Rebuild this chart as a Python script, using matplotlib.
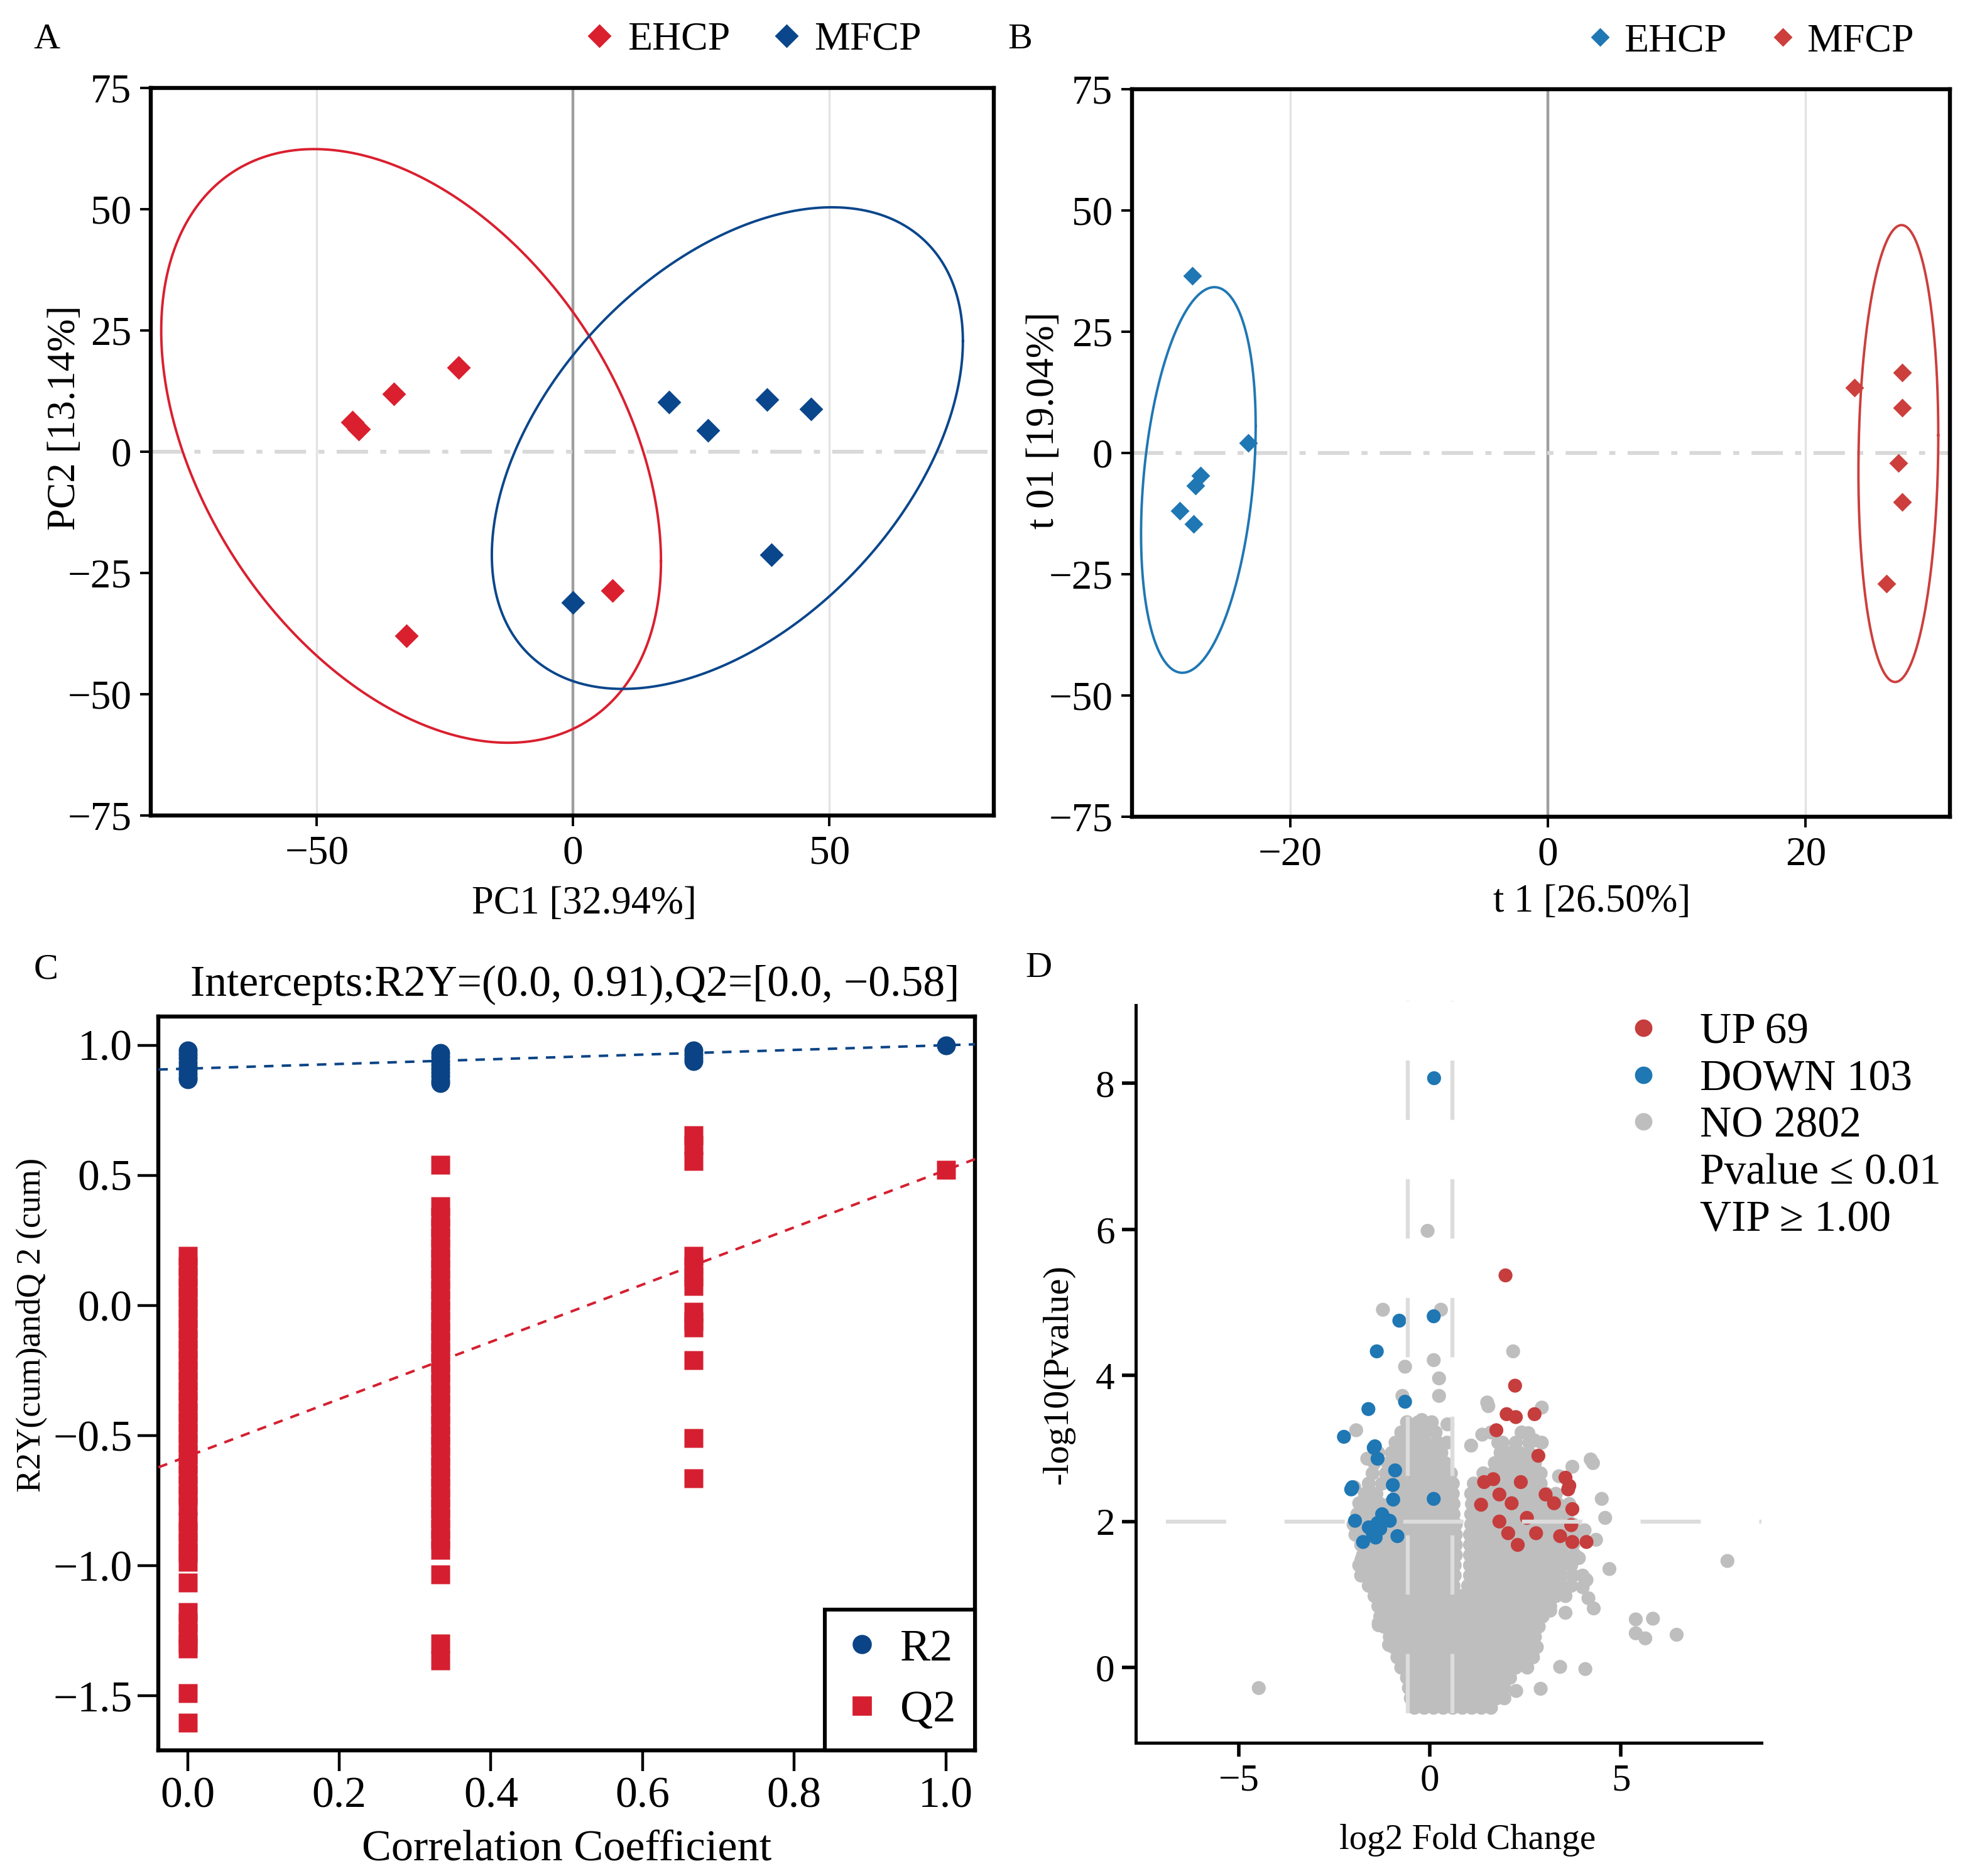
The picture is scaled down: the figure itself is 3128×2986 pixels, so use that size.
import numpy as np
import matplotlib
matplotlib.use('Agg')
import matplotlib.pyplot as plt
from matplotlib.lines import Line2D
from matplotlib.ticker import FuncFormatter

plt.rcParams['font.family'] = ['Liberation Serif', 'DejaVu Serif']
plt.rcParams['lines.scale_dashes'] = False
plt.rcParams['axes.unicode_minus'] = True

# ---- A: PCA scores ----
pca_ehcp_x = [-43.0, -41.8, -35.0, -22.3, -32.5, 7.7]
pca_ehcp_y = [6.1, 4.7, 11.9, 17.4, -37.9, -28.6]
pca_mfcp_x = [18.7, 26.3, 37.8, 46.4, 38.7, 0.0]
pca_mfcp_y = [10.2, 4.4, 10.7, 8.8, -21.3, -31.1]
# confidence ellipses: centre x, centre y, half extent x, half extent y, correlation
pca_ehcp_ell = [-31.6, 1.2, 48.75, 61.2, -0.388]
pca_mfcp_ell = [30.1, 0.75, 45.95, 49.65, 0.444]

# ---- B: OPLS-DA scores ----
opls_ehcp_x = [-27.6, -23.3, -27.0, -27.4, -28.6, -27.5]
opls_ehcp_y = [36.5, 2.1, -4.6, -6.7, -11.9, -14.6]
opls_mfcp_x = [23.8, 27.5, 27.5, 27.2, 27.5, 26.3]
opls_mfcp_y = [13.5, 16.6, 9.4, -2.0, -10.1, -26.9]
opls_ehcp_ell = [-27.15, -5.55, 4.45, 39.75, 0.28]
opls_mfcp_ell = [27.2, -0.1, 3.1, 47.1, 0.08]

# ---- C: permutation test ----
perm_levels = [0.0, 0.333, 0.667, 1.0]
r2_values = [
    [0.98, 0.965, 0.95, 0.935, 0.92, 0.905, 0.89, 0.875, 0.87],
    [0.97, 0.955, 0.94, 0.925, 0.91, 0.895, 0.88, 0.865, 0.855],
    [0.98, 0.965, 0.95, 0.94],
    [1.0],
]
q2_values = [
    [0.19, 0.15, 0.11, 0.07, 0.03, -0.01, -0.05, -0.09, -0.13, -0.17, -0.21,
     -0.25, -0.29, -0.33, -0.37, -0.41, -0.45, -0.49, -0.53, -0.57, -0.61,
     -0.65, -0.69, -0.73, -0.77, -0.83, -0.87, -0.91, -0.95, -0.985,
     -1.065, -1.18, -1.22, -1.26, -1.3, -1.32, -1.49, -1.605],
    [0.54, 0.38, 0.34, 0.3, 0.26, 0.22, 0.18, 0.14, 0.1, 0.06, 0.02, -0.02,
     -0.06, -0.1, -0.14, -0.18, -0.22, -0.26, -0.3, -0.34, -0.38, -0.42,
     -0.46, -0.5, -0.54, -0.58, -0.62, -0.66, -0.7, -0.74, -0.78, -0.82,
     -0.86, -0.9, -0.94, -1.035, -1.3, -1.365],
    [0.655, 0.615, 0.555, 0.19, 0.15, 0.11, 0.075, -0.025, -0.06, -0.085,
     -0.21, -0.51, -0.665],
    [0.52],
]
r2_intercept = 0.91
q2_intercept = -0.58

# ---- D: volcano ----
up_x = [1.98, 2.23, 2.01, 2.25, 2.74, 1.74, 2.84, 3.62, 3.65, 3.73, 3.73, 4.10,
        1.34, 1.42, 1.66, 1.82, 2.14, 2.38, 2.54, 2.78, 1.82, 2.05, 3.03, 3.25,
        3.41, 2.30, 3.55, 3.70]
up_y = [5.37, 3.86, 3.47, 3.43, 3.47, 3.25, 2.90, 2.44, 2.49, 2.17, 1.72, 1.72,
        2.23, 2.54, 2.58, 2.37, 2.25, 2.54, 2.05, 1.84, 2.00, 1.84, 2.37, 2.25,
        1.80, 1.68, 2.60, 1.95]
down_x = [0.11, -0.80, 0.10, -1.39, -1.61, -2.25, -0.65, -1.44, -1.37, -0.91,
          -0.97, -2.06, -1.96, -1.37, -1.50, -1.42, -1.60, -1.05, -1.20, -2.03,
          -1.47, -0.96, -1.30, -1.25, 0.10, -1.75, -0.85]
down_y = [8.07, 4.75, 4.81, 4.33, 3.54, 3.16, 3.64, 3.03, 2.86, 2.70,
          2.50, 2.44, 2.01, 1.98, 1.85, 1.78, 1.92, 2.01, 2.05, 2.47,
          3.01, 2.30, 1.90, 2.10, 2.31, 1.72, 1.80]
no_rows_y = [-0.55, -0.42, -0.28, -0.14, 0.0, 0.14, 0.28, 0.42, 0.56, 0.7,
             0.84, 0.98, 1.12, 1.26, 1.4, 1.54, 1.68, 1.82, 1.96, 2.1, 2.24,
             2.38, 2.52, 2.66, 2.8, 2.94, 3.08, 3.22, 3.36]
no_rows_x = [
    [-0.4, -0.15, 0.1, 0.35, 0.6, 0.85, 1.1, 1.35, 1.6],
    [-0.5, -0.25, 0.0, 0.25, 0.5, 0.75, 1.0, 1.25, 1.5, 1.75, 1.95],
    [-0.55, -0.3, -0.05, 0.2, 0.45, 0.7, 0.95, 1.2, 1.45, 1.7, 1.95],
    [-0.6, -0.35, -0.1, 0.15, 0.4, 0.65, 0.9, 1.15, 1.4, 1.65, 1.9, 2.1],
    [-0.75, -0.5, -0.25, 0.0, 0.25, 0.5, 0.75, 1.0, 1.25, 1.5, 1.75, 2.0, 2.25, 2.55],
    [-0.85, -0.6, -0.35, -0.1, 0.15, 0.4, 0.65, 0.9, 1.15, 1.4, 1.65, 1.9, 2.15, 2.4, 2.7],
    [-0.95, -0.7, -0.45, -0.2, 0.05, 0.3, 0.55, 0.8, 1.05, 1.3, 1.55, 1.8, 2.05, 2.3,
     2.55, 2.8],
    [-1.05, -0.8, -0.55, -0.3, -0.05, 0.2, 0.45, 0.7, 0.95, 1.2, 1.45, 1.7, 1.95, 2.2,
     2.45, 2.75],
    [-1.2, -0.95, -0.7, -0.45, -0.2, 0.05, 0.3, 0.55, 0.8, 1.05, 1.3, 1.55, 1.8, 2.05,
     2.3, 2.55, 2.85],
    [-1.3, -1.05, -0.8, -0.55, -0.3, -0.05, 0.2, 0.45, 0.7, 0.95, 1.2, 1.45, 1.7, 1.95,
     2.2, 2.45, 2.7, 2.95],
    [-1.35, -1.1, -0.85, -0.6, -0.35, -0.1, 0.15, 0.4, 0.65, 0.9, 1.15, 1.4, 1.65, 1.9,
     2.15, 2.4, 2.65, 2.9, 3.15],
    [-1.45, -1.2, -0.95, -0.7, -0.45, -0.2, 0.05, 0.3, 0.55, 0.8, 1.05, 1.3, 1.55, 1.8,
     2.05, 2.3, 2.55, 2.8, 3.05, 3.3, 3.55],
    [-1.6, -1.35, -1.1, -0.85, -0.6, -0.35, -0.1, 0.15, 0.4, 0.62, 1.0, 1.2, 1.4, 1.65,
     1.9, 2.15, 2.4, 2.65, 2.9, 3.15, 3.4, 3.7],
    [-1.8, -1.55, -1.3, -1.05, -0.8, -0.55, -0.3, -0.05, 0.2, 0.45, 0.65, 1.05, 1.25,
     1.45, 1.7, 1.95, 2.2, 2.45, 2.7, 2.95, 3.2, 3.45, 3.75, 4.0],
    [-1.85, -1.6, -1.35, -1.1, -0.85, -0.6, -0.35, -0.1, 0.15, 0.4, 0.65, 1.05, 1.25,
     1.45, 1.7, 1.95, 2.2, 2.45, 2.7, 2.95, 3.2, 3.45, 3.7],
    [-1.75, -1.5, -1.25, -1.0, -0.75, -0.5, -0.25, 0.0, 0.25, 0.5, 0.68, 1.05, 1.25,
     1.5, 1.75, 2.0, 2.25, 2.5, 2.75, 3.0, 3.25, 3.5, 3.8],
    [-1.8, -1.55, -1.3, -1.05, -0.8, -0.55, -0.3, -0.05, 0.2, 0.45, 0.68, 1.05, 1.25,
     1.5, 1.75, 2.0, 2.25, 2.5, 2.75, 3.0, 3.25, 3.5, 3.75],
    [-1.95, -1.7, -1.45, -1.2, -0.95, -0.7, -0.45, -0.2, 0.05, 0.3, 0.55, 0.68, 1.05,
     1.3, 1.55, 1.8, 2.05, 2.3, 2.55, 2.8, 3.05, 3.3, 3.55, 3.8],
    [-2.0, -1.75, -1.5, -1.25, -1.0, -0.75, -0.5, -0.25, 0.0, 0.25, 0.5, 0.68, 1.08,
     1.3, 1.55, 1.8, 2.05, 2.3, 2.55, 2.8, 3.05, 3.3, 3.55, 3.75],
    [-1.9, -1.65, -1.4, -1.15, -0.9, -0.65, -0.4, -0.15, 0.1, 0.35, 0.62, 1.08, 1.3,
     1.55, 1.8, 2.05, 2.3, 2.55, 2.8, 3.05, 3.3, 3.6],
    [-1.8, -1.55, -1.3, -1.05, -0.8, -0.55, -0.3, -0.05, 0.2, 0.45, 0.62, 1.1, 1.35,
     1.6, 1.85, 2.1, 2.35, 2.6, 2.85, 3.1, 3.35, 3.65],
    [-1.7, -1.4, -0.85, -0.6, -0.35, -0.1, 0.15, 0.4, 0.6, 1.08, 1.3, 1.55, 1.8, 2.05,
     2.3, 2.55, 2.8, 3.05, 3.3],
    [-1.6, -1.25, -0.85, -0.6, -0.35, -0.1, 0.15, 0.4, 0.6, 1.15, 1.4, 1.65, 1.9,
     2.15, 2.4, 2.65, 2.9],
    [-1.5, -1.15, -0.9, -0.65, -0.4, -0.15, 0.1, 0.35, 0.55, 1.4, 1.65, 1.9, 2.15,
     2.4, 2.65, 2.9],
    [-1.45, -1.1, -0.85, -0.6, -0.35, -0.1, 0.15, 0.4, 1.7, 1.95, 2.2, 2.45, 2.75],
    [-1.35, -1.0, -0.75, -0.5, -0.25, 0.0, 0.3, 1.85, 2.1, 2.35, 2.6],
    [-0.9, -0.6, -0.35, -0.1, 0.2, 0.45, 1.9, 2.25, 2.6],
    [-0.75, -0.45, -0.15, 0.15, 1.6, 2.4],
    [-0.6, -0.3, 0.05],
]
no_extra_x = [-4.48, -0.06, -1.23, 0.29, 2.18, 0.10, -0.65, 0.24, 0.24, -0.72,
              7.79, 5.39, 5.84, 5.39, 5.64, 6.46, 4.07, 3.41, 2.26, 2.90, 4.70,
              4.29, 4.50, 4.59, 4.21, 4.27, 3.73, 3.38, 2.93, 1.50, 1.53, 1.08,
              1.37, 1.79, 2.58, 2.74, 2.93, -1.93, -1.64, -1.98, -1.85, -1.77,
              -1.79, -1.77, -1.34, 0.46, -0.21, 4.00, 4.15, 3.55, 3.15, 4.35,
              4.05, 3.90, 4.10, -1.30, -1.07, -1.34]
no_extra_y = [-0.28, 5.98, 4.90, 4.90, 4.33, 4.21, 4.12, 3.96, 3.72, 3.72,
              1.46, 0.66, 0.67, 0.47, 0.40, 0.45, -0.02, 0.01, -0.32, -0.29, 1.35,
              0.81, 2.31, 2.05, 2.85, 2.80, 2.75, 2.62, 3.56, 3.63, 3.58, 3.04,
              3.19, 3.08, 3.21, 3.11, 3.08, 3.25, 2.86, 2.47, 2.25, 1.84,
              1.48, 1.30, 0.61, 3.33, 3.39, 1.10, 0.95, 0.75, 0.78, 1.75,
              1.88, 1.50, 1.20, 0.85, 0.31, 0.58]
fc_cut = 0.585
p_cut = 2.0

RED_A, BLUE_A = '#DA1F2F', '#0A468C'
BLUE_B, RED_B = '#1F77B4', '#CC3F3C'
BLUE_C, RED_C = '#0B4486', '#D51F30'
UP_C, DOWN_C, NO_C = '#C63D3D', '#1F77B4', '#BEBEBE'

minus_fmt = FuncFormatter(lambda v, p: ('%.1f' % v).replace('-', '\u2212'))


def ellipse_xy(params, n=300):
    cx, cy, hx, hy, r = params
    t = np.linspace(0, 2 * np.pi, n)
    x = cx + hx * np.cos(t)
    y = cy + hy * (r * np.cos(t) + np.sqrt(1 - r * r) * np.sin(t))
    return x, y


def score_axes(ax, xlim, xticks):
    ax.set_xlim(*xlim)
    ax.set_ylim(-75, 75)
    ax.set_xticks(xticks)
    ax.set_yticks([-75, -50, -25, 0, 25, 50, 75])
    for s in ax.spines.values():
        s.set_linewidth(2.3)
    ax.tick_params(labelsize=23.5, length=6, width=1.4, pad=5, direction='out')
    for xv in xticks:
        if xv == 0:
            ax.axvline(0, color='#9E9E9E', lw=1.6, zorder=0)
        else:
            ax.axvline(xv, color='#E3E3E3', lw=1.2, zorder=0)
    ax.axhline(0, color='#D9D9D9', lw=2.2, zorder=0,
               linestyle=(0, (18, 7, 3.5, 7)))


fig = plt.figure(figsize=(15.64, 14.93), dpi=200)

# ---------------- A ----------------
axA = fig.add_axes([0.0767, 0.5653, 0.4291, 0.3878])
score_axes(axA, (-82.4, 82.1), [-50, 0, 50])
ex, ey = ellipse_xy(pca_ehcp_ell)
axA.plot(ex, ey, color=RED_A, lw=1.4)
ex, ey = ellipse_xy(pca_mfcp_ell)
axA.plot(ex, ey, color=BLUE_A, lw=1.4)
axA.plot(pca_ehcp_x, pca_ehcp_y, 'D', color=RED_A, ms=8.5, ls='')
axA.plot(pca_mfcp_x, pca_mfcp_y, 'D', color=BLUE_A, ms=8.5, ls='')
axA.set_xlabel('PC1 [32.94%]', fontsize=22.5)
axA.set_ylabel('PC2 [13.14%]', fontsize=22.5)
axA.xaxis.set_label_coords(0.514, -0.097)
axA.yaxis.set_label_coords(-0.08, 0.547)
hA = [Line2D([], [], marker='D', ls='', color=RED_A, ms=8.5),
      Line2D([], [], marker='D', ls='', color=BLUE_A, ms=8.5)]
axA.legend(hA, ['EHCP', 'MFCP'], ncol=2, loc='center', bbox_to_anchor=(0.715, 1.066),
           frameon=False, fontsize=23, handlelength=0.7, handletextpad=0.35,
           columnspacing=1.05, borderaxespad=0)

# ---------------- B ----------------
axB = fig.add_axes([0.5761, 0.5646, 0.4162, 0.3878])
score_axes(axB, (-32.3, 31.2), [-20, 0, 20])
ex, ey = ellipse_xy(opls_ehcp_ell)
axB.plot(ex, ey, color=BLUE_B, lw=1.4)
ex, ey = ellipse_xy(opls_mfcp_ell)
axB.plot(ex, ey, color=RED_B, lw=1.4)
axB.plot(opls_ehcp_x, opls_ehcp_y, 'D', color=BLUE_B, ms=6.5, ls='')
axB.plot(opls_mfcp_x, opls_mfcp_y, 'D', color=RED_B, ms=6.5, ls='')
axB.set_xlabel('t 1 [26.50%]', fontsize=22.5)
axB.set_ylabel('t 01 [19.04%]', fontsize=22.5)
axB.xaxis.set_label_coords(0.562, -0.092)
axB.yaxis.set_label_coords(-0.085, 0.545)
hB = [Line2D([], [], marker='D', ls='', color=BLUE_B, ms=6.5),
      Line2D([], [], marker='D', ls='', color=RED_B, ms=6.5)]
axB.legend(hB, ['EHCP', 'MFCP'], ncol=2, loc='center', bbox_to_anchor=(0.757, 1.066),
           frameon=False, fontsize=23, handlelength=0.6, handletextpad=0.3,
           columnspacing=1.1, borderaxespad=0)

# ---------------- C ----------------
axC = fig.add_axes([0.0806, 0.0670, 0.4156, 0.3911])
xlimC = (-0.0385, 1.0385)
axC.set_xlim(*xlimC)
axC.set_ylim(-1.71, 1.11)
for lv, vals in zip(perm_levels, q2_values):
    axC.plot([lv] * len(vals), vals, 's', color=RED_C, ms=10.6, mec='none', ls='', zorder=2)
for lv, vals in zip(perm_levels, r2_values):
    axC.plot([lv] * len(vals), vals, 'o', color=BLUE_C, ms=10.8, mec='none', ls='', zorder=3)
lx = np.array(xlimC)
r2_orig = r2_values[-1][0]
q2_orig = q2_values[-1][0]
axC.plot(lx, r2_intercept + (r2_orig - r2_intercept) * lx, color=BLUE_C, lw=1.45,
         linestyle=(0, (5.4, 4.7)), zorder=4)
axC.plot(lx, q2_intercept + (q2_orig - q2_intercept) * lx, color=RED_C, lw=1.45,
         linestyle=(0, (5.4, 4.7)), zorder=4)
axC.set_xticks([0.0, 0.2, 0.4, 0.6, 0.8, 1.0])
axC.set_yticks([-1.5, -1.0, -0.5, 0.0, 0.5, 1.0])
axC.xaxis.set_major_formatter(minus_fmt)
axC.yaxis.set_major_formatter(minus_fmt)
for s in axC.spines.values():
    s.set_linewidth(2.3)
axC.tick_params(labelsize=25, length=12, width=1.6, pad=3, direction='out')
axC.set_title('Intercepts:R2Y=(0.0, 0.91),Q2=[0.0, \u22120.58]', fontsize=25, pad=12, x=0.51)
axC.set_xlabel('Correlation Coefficient', fontsize=25.3)
axC.set_ylabel('R2Y(cum)andQ 2 (cum)', fontsize=19.5)
axC.xaxis.set_label_coords(0.5, -0.108)
axC.yaxis.set_label_coords(-0.135, 0.58)
hC = [Line2D([], [], marker='o', ls='', color=BLUE_C, ms=10),
      Line2D([], [], marker='s', ls='', color=RED_C, ms=10)]
legC = axC.legend(hC, ['R2', 'Q2'], loc='lower right', bbox_to_anchor=(1, 0),
                  borderaxespad=0, fancybox=False, edgecolor='black', fontsize=26,
                  handlelength=0.8, handletextpad=0.45, borderpad=0.42, labelspacing=0.45,
                  framealpha=1)
legC.get_frame().set_linewidth(2.2)

# ---------------- D ----------------
axD = fig.add_axes([0.578, 0.071, 0.3184, 0.3932])
axD.set_xlim(-7.7, 8.68)
axD.set_ylim(-1.03, 9.07)
for ry, rxs in zip(no_rows_y, no_rows_x):
    axD.scatter(rxs, [ry] * len(rxs), s=64, color=NO_C, edgecolors='none', zorder=1)
axD.scatter(no_extra_x, no_extra_y, s=64, color=NO_C, edgecolors='none', zorder=1)
axD.scatter(up_x, up_y, s=64, color=UP_C, edgecolors='none', zorder=2)
axD.scatter(down_x, down_y, s=64, color=DOWN_C, edgecolors='none', zorder=2)
for xv in (-fc_cut, fc_cut):
    axD.plot([xv, xv], [-0.63, 9.13], color='#DCDCDC', lw=2.3,
             linestyle=(0, (34, 34)), zorder=3, clip_on=False)
axD.plot([-6.91, 8.68], [p_cut, p_cut], color='#DCDCDC', lw=2.3,
         linestyle=(0, (34.5, 33.5)), zorder=3)
axD.spines['top'].set_visible(False)
axD.spines['right'].set_visible(False)
axD.spines['left'].set_linewidth(1.8)
axD.spines['bottom'].set_linewidth(1.8)
axD.set_xticks([-5, 0, 5])
axD.set_yticks([0, 2, 4, 6, 8])
axD.tick_params(labelsize=22, length=8, width=2, pad=4, direction='out')
axD.set_xlabel('log2 Fold Change', fontsize=20.5)
axD.set_ylabel('-log10(Pvalue)', fontsize=21)
axD.xaxis.set_label_coords(0.53, -0.11)
axD.yaxis.set_label_coords(-0.098, 0.5)
hD = [Line2D([], [], marker='o', ls='', color=UP_C, ms=9),
      Line2D([], [], marker='o', ls='', color=DOWN_C, ms=9),
      Line2D([], [], marker='o', ls='', color=NO_C, ms=9),
      Line2D([], [], ls='', marker=''),
      Line2D([], [], ls='', marker='')]
axD.legend(hD, ['UP 69', 'DOWN 103', 'NO 2802', 'Pvalue \u2264 0.01', 'VIP \u2265 1.00'],
           loc='upper left', bbox_to_anchor=(0.776, 0.99), frameon=False, fontsize=25,
           handlelength=1.0, handletextpad=0.8, borderpad=0, borderaxespad=0,
           labelspacing=0.16)

# panel letters
fig.text(0.017, 0.979, 'A', fontsize=21, va='center')
fig.text(0.513, 0.979, 'B', fontsize=21, va='center')
fig.text(0.017, 0.483, 'C', fontsize=21, va='center')
fig.text(0.522, 0.484, 'D', fontsize=21, va='center')

fig.savefig('out.png', dpi=200)
